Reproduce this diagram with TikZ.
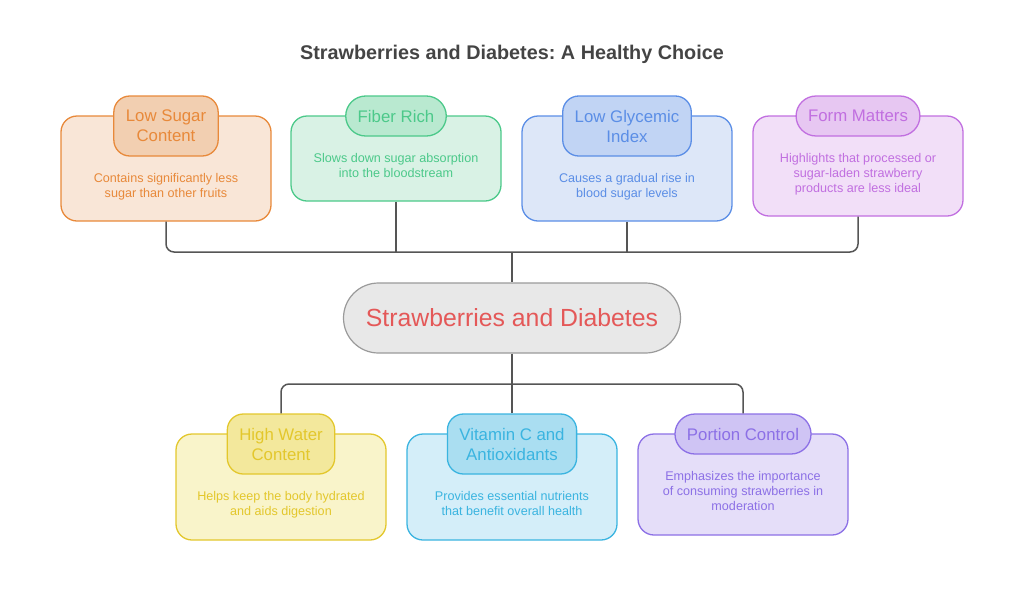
\documentclass[tikz,border=0pt]{standalone}
\usepackage{fontspec}
\setmainfont{Liberation Sans}
\usetikzlibrary{positioning}
\frenchspacing

\definecolor{titlegray}{HTML}{444444}
\definecolor{linkgray}{HTML}{555555}
\definecolor{orangeline}{HTML}{E8893A}
\definecolor{orangefill}{HTML}{F9E6D7}
\definecolor{orangehead}{HTML}{F2CFB1}
\definecolor{greenline}{HTML}{4CC98A}
\definecolor{greenfill}{HTML}{D9F2E5}
\definecolor{greenhead}{HTML}{B9E9D0}
\definecolor{blueline}{HTML}{5B8EE6}
\definecolor{bluefill}{HTML}{DDE7F8}
\definecolor{bluehead}{HTML}{C1D4F4}
\definecolor{purpleline}{HTML}{C16FE0}
\definecolor{purplefill}{HTML}{F2DFF8}
\definecolor{purplehead}{HTML}{E7C7F2}
\definecolor{yellowline}{HTML}{E3C72C}
\definecolor{yellowfill}{HTML}{F9F4CA}
\definecolor{yellowhead}{HTML}{F3E89C}
\definecolor{cyanline}{HTML}{3AB4E0}
\definecolor{cyanfill}{HTML}{D4EEF9}
\definecolor{cyanhead}{HTML}{AADEF1}
\definecolor{violetline}{HTML}{8C70E6}
\definecolor{violetfill}{HTML}{E5DEF9}
\definecolor{violethead}{HTML}{CFC4F4}
\definecolor{hubfill}{HTML}{E8E8E8}
\definecolor{hubline}{HTML}{9A9A9A}
\definecolor{hubtext}{HTML}{E45858}

\begin{document}
\begin{tikzpicture}[x=1pt,y=-1pt,
    card/.style={rectangle, rounded corners=16pt, draw=#1line, fill=#1fill, line width=1.3pt, minimum width=210pt},
    head/.style={rectangle, rounded corners=16pt, draw=#1line, fill=#1head, line width=1.3pt, text=#1line,
                 minimum height=40pt, inner xsep=12pt, align=center, font=\fontsize{16.8}{20}\selectfont},
    pill/.style={rounded corners=20pt},
    blurb/.style={text=#1line, align=center, font=\fontsize{12.6}{15}\selectfont},
    connect/.style={draw=linkgray, line width=1.5pt, rounded corners=8pt}]
    \useasboundingbox (0,0) rectangle (1024,592);

    \node[text=titlegray, font=\bfseries\fontsize{19.8}{23}\selectfont] (title) at (512,54) {Strawberries and Diabetes: A Healthy Choice};

    % upper row
    \node[card=orange, minimum height=105pt] (sugar) at (166,168.5) {};
    \node[head=orange, minimum height=60pt, anchor=north] (sugarhead) at ([yshift=20pt]sugar.north) {Low Sugar\\Content};
    \node[blurb=orange, below=13pt of sugarhead] (sugartext) {Contains significantly less\\sugar than other fruits};

    \node[card=green, minimum height=85pt] (fiber) at (396,158.5) {};
    \node[head=green, pill, anchor=north] (fiberhead) at ([yshift=20pt]fiber.north) {Fiber Rich};
    \node[blurb=green, below=13pt of fiberhead] (fibertext) {Slows down sugar absorption\\into the bloodstream};

    \node[card=blue, minimum height=105pt] (glycemic) at (627,168.5) {};
    \node[head=blue, minimum height=60pt, anchor=north] (glycemichead) at ([yshift=20pt]glycemic.north) {Low Glycemic\\Index};
    \node[blurb=blue, below=13pt of glycemichead] (glycemictext) {Causes a gradual rise in\\blood sugar levels};

    \node[card=purple, minimum height=100pt] (form) at (858,166) {};
    \node[head=purple, pill, anchor=north] (formhead) at ([yshift=20pt]form.north) {Form Matters};
    \node[blurb=purple, below=13pt of formhead] (formtext) {Highlights that processed or\\sugar-laden strawberry\\products are less ideal};

    % centre
    \node[rectangle, rounded corners=35pt, draw=hubline, fill=hubfill, line width=1.2pt, minimum width=337pt,
          minimum height=70pt, text=hubtext, font=\fontsize{24.8}{28}\selectfont] (hub) at (512,318) {Strawberries and Diabetes};

    % lower row
    \node[card=yellow, minimum height=106pt] (water) at (281,487) {};
    \node[head=yellow, minimum height=60pt, anchor=north] (waterhead) at ([yshift=20pt]water.north) {High Water\\Content};
    \node[blurb=yellow, below=13pt of waterhead] (watertext) {Helps keep the body hydrated\\and aids digestion};

    \node[card=cyan, minimum height=106pt] (vitamin) at (512,487) {};
    \node[head=cyan, minimum height=60pt, anchor=north] (vitaminhead) at ([yshift=20pt]vitamin.north) {Vitamin C and\\Antioxidants};
    \node[blurb=cyan, below=13pt of vitaminhead] (vitamintext) {Provides essential nutrients\\that benefit overall health};

    \node[card=violet, minimum height=101pt] (portion) at (743,484.5) {};
    \node[head=violet, pill, anchor=north] (portionhead) at ([yshift=20pt]portion.north) {Portion Control};
    \node[blurb=violet, below=13pt of portionhead] (portiontext) {Emphasizes the importance\\of consuming strawberries in\\moderation};

    % connectors
    \coordinate (topjoin) at (512,252);
    \coordinate (botjoin) at (512,384);
    \draw[connect] (sugar.south) |- (topjoin) -| (form.south);
    \draw[connect] (fiber.south) -- (fiber.south |- topjoin);
    \draw[connect] (glycemic.south) -- (glycemic.south |- topjoin);
    \draw[connect] (topjoin) -- (hub.north);
    \draw[connect] (hub.south) -- (botjoin);
    \draw[connect] (waterhead.north) |- (botjoin) -| (portionhead.north);
    \draw[connect] (vitaminhead.north) -- (vitaminhead.north |- botjoin);
\end{tikzpicture}
\end{document}
